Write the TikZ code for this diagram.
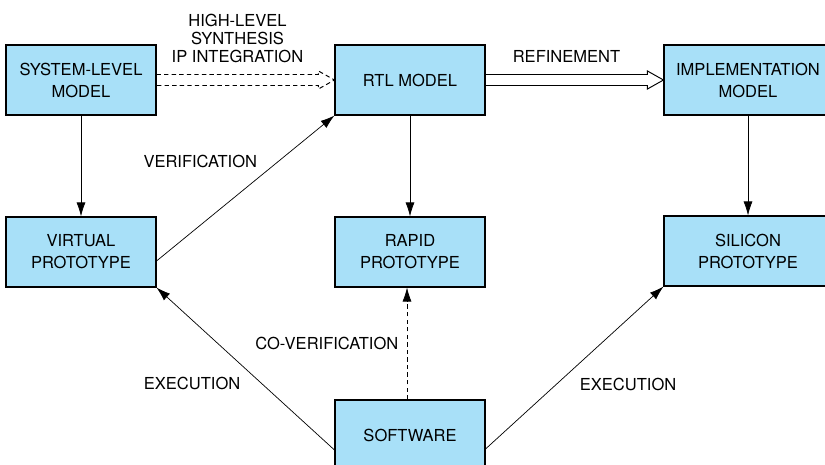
\documentclass[tikz,border=0pt]{standalone}
\usepackage{fontspec}
\setmainfont{TeX Gyre Heros}
\usetikzlibrary{arrows.meta,positioning}
\definecolor{boxblue}{RGB}{168,224,248}
\tikzstyle{block} = [draw, fill=boxblue, rectangle, line width=0.6pt,
minimum height=1.4cm, minimum width=3cm, align=center,
font=\fontsize{9.4}{12.5}\selectfont]
\tikzstyle{wideblock} = [block, minimum width=3.36cm]
\tikzstyle{lbl} = [font=\fontsize{9.4}{10.3}\selectfont, align=center]
\tikzstyle{hollow} = [line width=0.55pt, line join=miter]
\tikzstyle{dsh} = [dash pattern=on 2.5pt off 1.8pt]

\begin{document}
\begin{tikzpicture}[auto, node distance=3.44cm, >={Latex[length=2.8mm,width=1.8mm]}]

\useasboundingbox (0,0) rectangle (16.5,-9.3);

\node [block] (sys) at (1.62,-1.6) {SYSTEM-LEVEL\\MODEL};
\node [block, right of=sys, node distance=6.58cm] (rtl) {RTL MODEL};
\node [wideblock, right of=rtl, node distance=6.76cm] (impl) {IMPLEMENTATION\\MODEL};
\node [block, below of=sys] (virt) {VIRTUAL\\PROTOTYPE};
\node [block, below of=rtl] (rapid) {RAPID\\PROTOTYPE};
\node [wideblock, below of=impl, node distance=3.42cm] (sil) {SILICON\\PROTOTYPE};
\node [block, below of=rapid, node distance=3.66cm] (sw) {SOFTWARE};

% top row, hollow arrows
\draw [hollow, dsh] ([yshift=0.11cm]sys.east)
  -- node [lbl, above=1.0mm] {HIGH-LEVEL\\SYNTHESIS\\IP INTEGRATION} ([xshift=-0.32cm,yshift=0.11cm]rtl.west)
  -- ([xshift=-0.32cm,yshift=0.18cm]rtl.west) -- (rtl.west)
  -- ([xshift=-0.32cm,yshift=-0.18cm]rtl.west) -- ([xshift=-0.32cm,yshift=-0.11cm]rtl.west)
  -- ([yshift=-0.11cm]sys.east);
\draw [hollow] ([yshift=0.11cm]rtl.east)
  -- node [lbl, above=1.2mm] {REFINEMENT} ([xshift=-0.32cm,yshift=0.11cm]impl.west)
  -- ([xshift=-0.32cm,yshift=0.18cm]impl.west) -- (impl.west)
  -- ([xshift=-0.32cm,yshift=-0.18cm]impl.west) -- ([xshift=-0.32cm,yshift=-0.11cm]impl.west)
  -- ([yshift=-0.11cm]rtl.east);

\draw [->] (sys) -- (virt);
\draw [->] (rtl) -- (rapid);
\draw [->] (impl) -- (sil);

\draw [->] ([yshift=-0.18cm]virt.east) -- node [lbl, pos=0.6, above left] {VERIFICATION} (rtl.south west);
\draw [->, dsh] ([xshift=-0.06cm]sw.north) -- node [lbl, left=0.5mm] {CO-VERIFICATION} ([xshift=-0.06cm]rapid.south);

\draw [->] ([yshift=-0.3cm]sw.west) -- node [lbl, pos=0.41, left=0.3cm] {EXECUTION} (virt.south east);
\draw [->] ([yshift=-0.28cm]sw.east) -- node [lbl, pos=0.40, right=0.34cm] {EXECUTION} (sil.south west);

\end{tikzpicture}
\end{document}
